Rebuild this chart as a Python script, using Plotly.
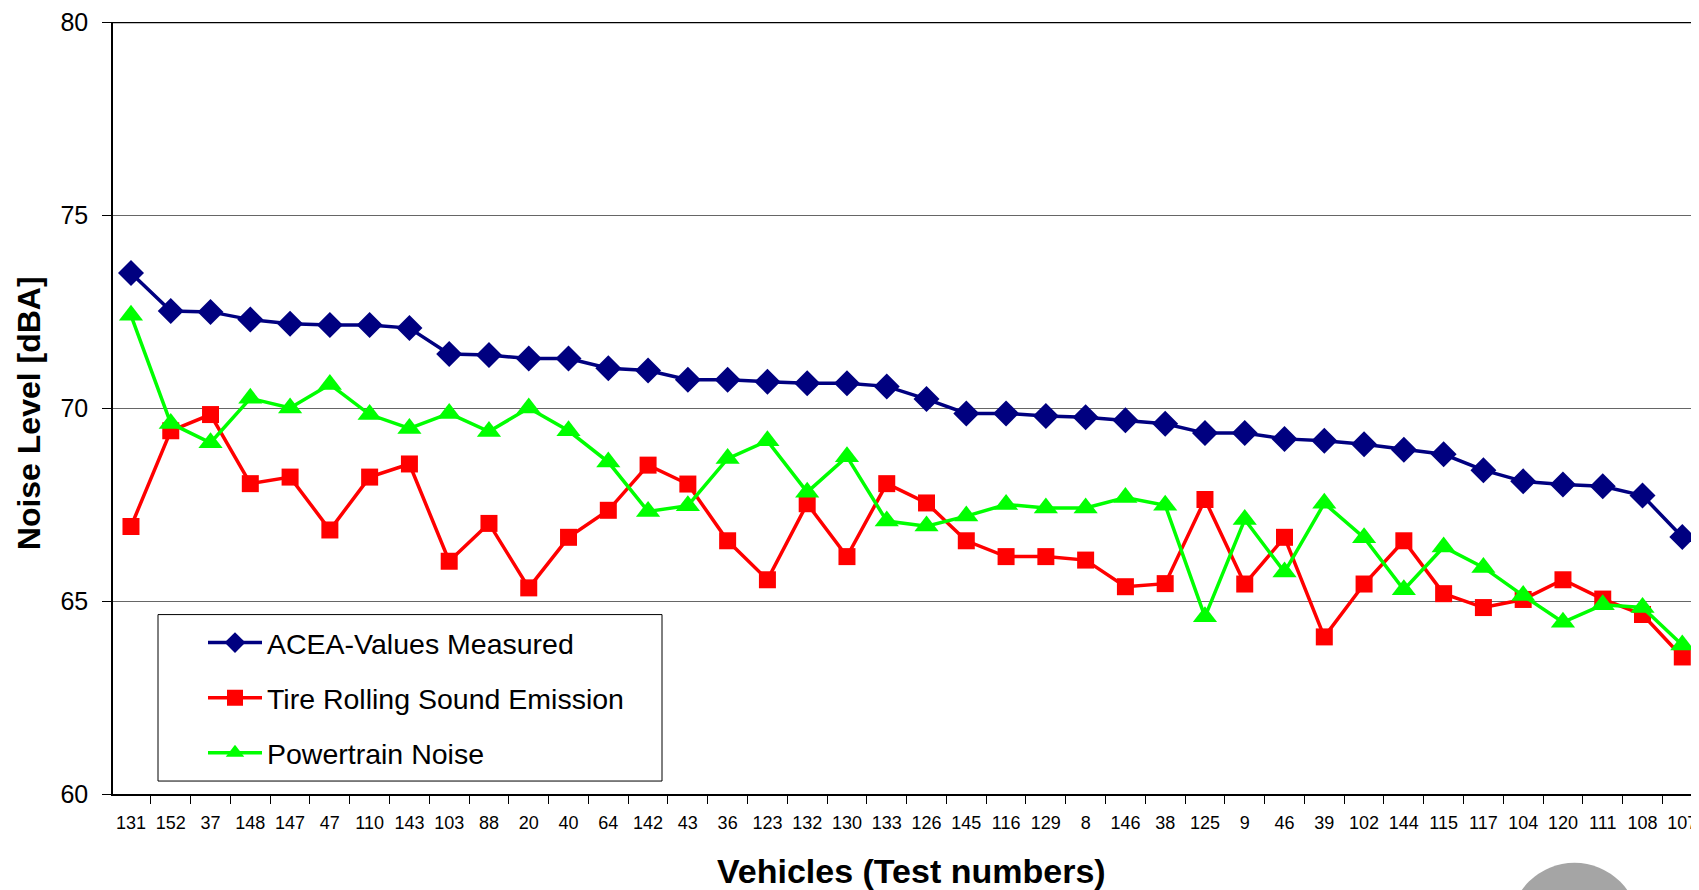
import plotly.graph_objects as go

vehicles = ["131", "152", "37", "148", "147", "47", "110", "143", "103", "88",
            "20", "40", "64", "142", "43", "36", "123", "132", "130", "133",
            "126", "145", "116", "129", "8", "146", "38", "125", "9", "46",
            "39", "102", "144", "115", "117", "104", "120", "111", "108", "107"]

acea = [73.5, 72.51, 72.49, 72.29, 72.18, 72.15, 72.15, 72.07, 71.4, 71.37,
        71.28, 71.28, 71.03, 70.97, 70.73, 70.73, 70.68, 70.64, 70.64, 70.56,
        70.23, 69.86, 69.86, 69.79, 69.76, 69.68, 69.59, 69.35, 69.35, 69.2,
        69.15, 69.06, 68.92, 68.8, 68.39, 68.1, 68.02, 67.97, 67.73, 66.66]

tire = [66.93, 69.41, 69.83, 68.04, 68.21, 66.84, 68.21, 68.55, 66.03, 67.01,
        65.34, 66.65, 67.35, 68.52, 68.03, 66.56, 65.55, 67.52, 66.15, 68.04,
        67.54, 66.56, 66.15, 66.15, 66.06, 65.37, 65.45, 67.63, 65.44, 66.65,
        64.07, 65.44, 66.56, 65.19, 64.83, 65.04, 65.55, 65.05, 64.65, 63.55]

powertrain = [72.4, 69.6, 69.1, 70.25, 70.0, 70.61, 69.83, 69.47, 69.86, 69.39,
              70.0, 69.41, 68.6, 67.32, 67.47, 68.69, 69.15, 67.82, 68.74, 67.07,
              66.94, 67.2, 67.5, 67.41, 67.41, 67.68, 67.48, 64.59, 67.11, 65.75,
              67.53, 66.64, 65.29, 66.4, 65.87, 65.14, 64.45, 64.9, 64.83, 63.86]

series_names = ["ACEA-Values Measured", "Tire Rolling Sound Emission", "Powertrain Noise"]
x_title = "Vehicles (Test numbers)"
y_title = "Noise Level [dBA]"

FONT = "Liberation Sans, Arial, sans-serif"

fig = go.Figure()
fig.add_trace(go.Scatter(
    x=vehicles, y=acea, name=series_names[0], mode="lines+markers",
    line=dict(color="#000080", width=3.5),
    marker=dict(symbol="diamond", size=20, color="#000080"),
    legendgroup="a"))
fig.add_trace(go.Scatter(
    x=vehicles, y=tire, name=series_names[1], mode="lines+markers",
    line=dict(color="#FF0000", width=3.5),
    marker=dict(symbol="square", size=17, color="#FF0000"),
    legendgroup="b"))
fig.add_trace(go.Scatter(
    x=vehicles, y=powertrain, name=series_names[2], mode="lines+markers",
    line=dict(color="#00FF00", width=3.5),
    marker=dict(symbol="triangle-up", size=21, color="#00FF00"),
    legendgroup="c"))

# figure is placed at (8, 8) in the page by the default body margin
W, H = 1691, 882
L, R, T, B = 105, 0, 11.5, 96
pw = W - L - R
ph = H - T - B

def px_x(p):
    return (p - L) / pw

def px_y(p):
    return (H - B - p) / ph

fig.update_layout(
    width=W, height=H,
    margin=dict(l=L, r=R, t=T, b=B, pad=0),
    paper_bgcolor="white", plot_bgcolor="white",
    font=dict(family=FONT, color="black"),
    showlegend=True,
    legend=dict(
        x=px_x(195), y=px_y(609), xanchor="left", yanchor="top",
        bgcolor="rgba(0,0,0,0)", borderwidth=0,
        font=dict(size=28.5, family=FONT, color="black"),
        itemwidth=54, tracegroupgap=15, traceorder="grouped",
    ),
    xaxis=dict(
        type="category", categoryorder="array", categoryarray=vehicles,
        range=[-0.452, 39.42],
        showgrid=False, zeroline=False,
        showline=True, linecolor="black", linewidth=2,
        ticks="outside", tickson="boundaries", ticklen=8, tickcolor="black", tickwidth=1,
        tickfont=dict(size=18, family=FONT), tickangle=0,
        ticklabelstandoff=11, ticklabeloverflow="allow",
    ),
    yaxis=dict(
        range=[60, 80], tickvals=[60, 65, 70, 75, 80],
        showgrid=True, gridcolor="#666666", gridwidth=1,
        zeroline=False,
        showline=True, linecolor="black", linewidth=1.5,
        ticks="outside", ticklen=9, tickcolor="black",
        tickfont=dict(size=25, family=FONT),
        ticklabelstandoff=9, ticklabeloverflow="allow",
    ),
    annotations=[
        dict(text="<b>" + x_title + "</b>", xref="paper", yref="paper",
             x=px_x(903), y=px_y(863), xanchor="center", yanchor="middle",
             showarrow=False, font=dict(size=34, family=FONT, color="black")),
        dict(text="<b>" + y_title + "</b>", xref="paper", yref="paper",
             x=px_x(21), y=px_y(404), xanchor="center", yanchor="middle",
             textangle=-90, showarrow=False,
             font=dict(size=32, family=FONT, color="black")),
    ],
    shapes=[
        dict(type="line", xref="paper", yref="y", x0=0, x1=1, y0=80, y1=80,
             line=dict(color="black", width=2.5)),
        dict(type="rect", xref="paper", yref="paper",
             x0=px_x(150), x1=px_x(654), y0=px_y(773), y1=px_y(606),
             line=dict(color="black", width=1), fillcolor="white", layer="above"),
        dict(type="circle", xref="paper", yref="paper",
             x0=px_x(1566.5 - 64.5), x1=px_x(1566.5 + 64.5),
             y0=px_y(919.5 + 64.5), y1=px_y(919.5 - 64.5),
             line=dict(color="#b0b0b0", width=0), fillcolor="#a5a5a5"),
    ],
)

fig.write_html("out.html")
